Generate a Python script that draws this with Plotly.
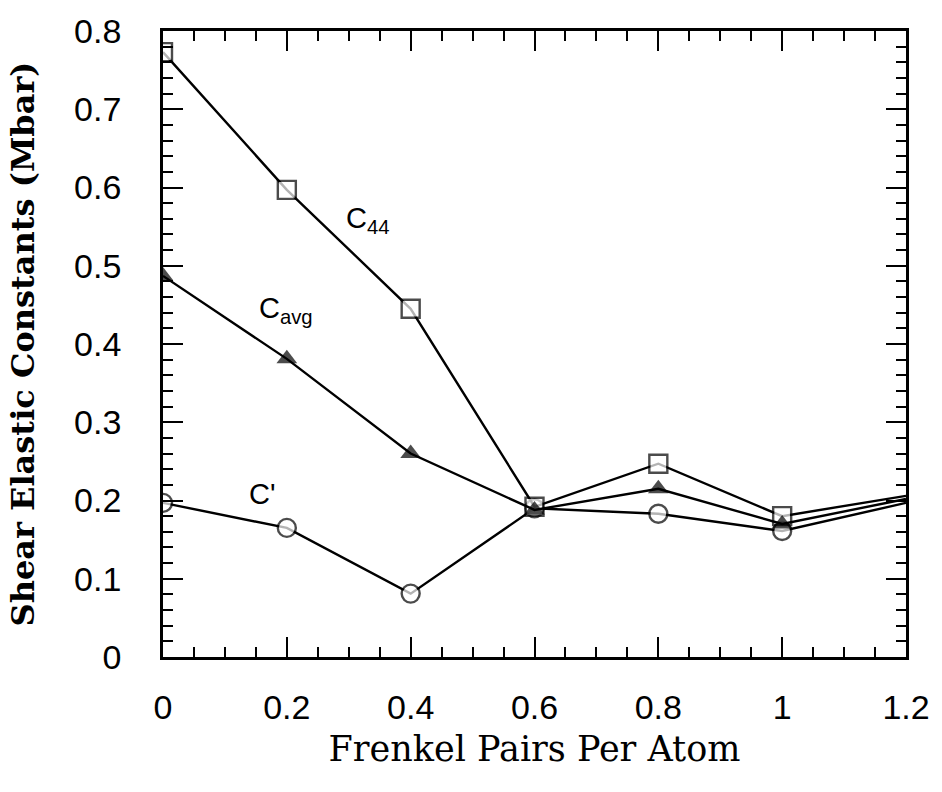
import plotly.graph_objects as go

# Frenkel pair concentration (pairs per atom)
frenkel = [0.0, 0.2, 0.4, 0.6, 0.8, 1.0, 1.2]

# Shear elastic constants (Mbar)
c44 = [0.773, 0.597, 0.445, 0.192, 0.247, 0.180, 0.206]
c_avg = [0.487, 0.381, 0.260, 0.188, 0.215, 0.170, 0.202]
c_prime = [0.197, 0.165, 0.081, 0.190, 0.183, 0.161, 0.197]

# last point sits on the frame, drawn without a symbol
sizes = [18, 18, 18, 18, 18, 18, 0]
tri_sizes = [18, 18, 18, 18, 18, 18, 0]

x_ticks = [0, 0.2, 0.4, 0.6, 0.8, 1.0, 1.2]
x_tick_text = ["0", "0.2", "0.4", "0.6", "0.8", "1", "1.2"]
y_ticks = [0, 0.1, 0.2, 0.3, 0.4, 0.5, 0.6, 0.7, 0.8]
y_tick_text = ["0", "0.1", "0.2", "0.3", "0.4", "0.5", "0.6", "0.7", "0.8"]

LW = 2.4

fig = go.Figure()

# C' (open circles) drawn first so the filled triangles stay on top
fig.add_trace(go.Scatter(
    x=frenkel, y=c_prime, mode="lines+markers", name="C'",
    line=dict(color="black", width=LW),
    marker=dict(symbol="circle", size=sizes, color="white",
                line=dict(color="black", width=LW)),
))
fig.add_trace(go.Scatter(
    x=frenkel, y=c44, mode="lines+markers", name="C44",
    line=dict(color="black", width=LW),
    marker=dict(symbol="square", size=sizes, color="white",
                line=dict(color="black", width=LW)),
))
fig.add_trace(go.Scatter(
    x=frenkel, y=c_avg, mode="lines+markers", name="Cavg",
    line=dict(color="black", width=LW),
    marker=dict(symbol="triangle-up", size=tri_sizes, color="black",
                line=dict(color="black", width=0)),
))

label_font = dict(family="Liberation Sans, Arial, sans-serif", size=29, color="black")
fig.add_annotation(x=0.292, y=0.559, text="C<sub>44</sub>", showarrow=False,
                   xanchor="left", yanchor="middle", font=label_font)
fig.add_annotation(x=0.152, y=0.444, text="C<sub>avg</sub>", showarrow=False,
                   xanchor="left", yanchor="middle", font=label_font)
fig.add_annotation(x=0.136, y=0.208, text="C'", showarrow=False,
                   xanchor="left", yanchor="middle", font=label_font)

axis_common = dict(
    showline=True, linecolor="black", linewidth=2.8, mirror="allticks",
    ticks="inside", ticklen=20, tickwidth=2.2, tickcolor="black",
    showgrid=False, zeroline=False,
    tickfont=dict(family="Liberation Sans, Arial, sans-serif", size=34, color="black"),
)

fig.update_xaxes(
    range=[0, 1.2], tickmode="array", tickvals=x_ticks, ticktext=x_tick_text,
    minor=dict(dtick=0.05, ticks="inside", ticklen=10, tickwidth=2.2, tickcolor="black"),
    ticklabelstandoff=18,
    title=dict(text="Frenkel Pairs Per Atom", standoff=12,
               font=dict(family="DejaVu Serif, serif", size=35, color="black")),
    **axis_common,
)
fig.update_yaxes(
    range=[0, 0.8], tickmode="array", tickvals=y_ticks, ticktext=y_tick_text,
    minor=dict(dtick=0.02, ticks="inside", ticklen=10, tickwidth=2.2, tickcolor="black"),
    ticklabelstandoff=32,
    title=dict(text="<b>Shear Elastic Constants (Mbar)</b>", standoff=30,
               font=dict(family="DejaVu Serif, serif", size=32, color="black")),
    **axis_common,
)

fig.update_layout(
    width=942, height=792,
    margin=dict(l=163, r=31, t=27, b=135),
    plot_bgcolor="white", paper_bgcolor="white",
    showlegend=False,
)

fig.write_html("out.html")
